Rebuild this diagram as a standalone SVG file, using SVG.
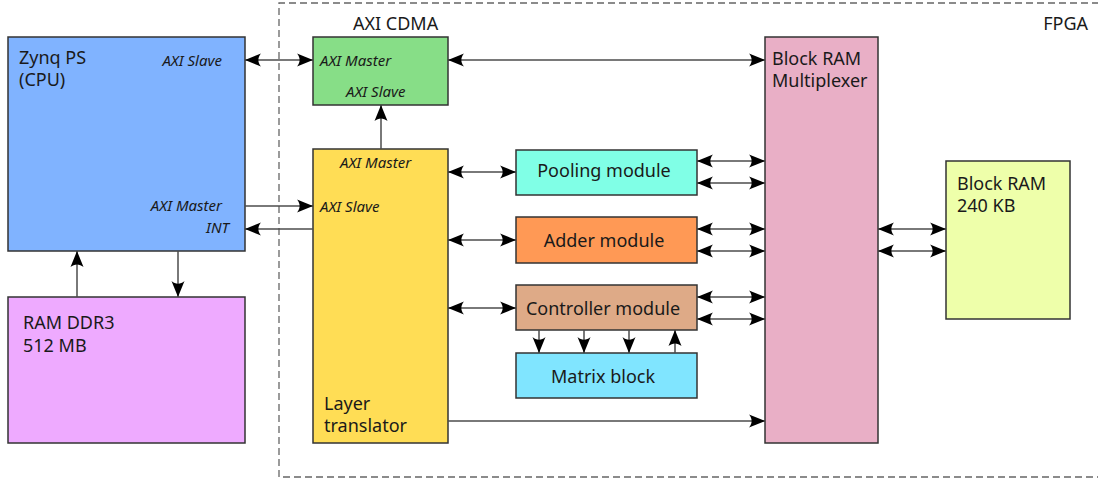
<svg xmlns="http://www.w3.org/2000/svg" width="1098" height="482" viewBox="0 0 1098 482">
<style>
text{font-family:"Noto Sans","Open Sans","DejaVu Sans",sans-serif;fill:#1a1a1a}
.t{font-size:18px}
.i{font-size:15px;font-style:italic}
.box{stroke:#333;stroke-width:1.5}
.c{stroke:#4d4d4d;stroke-width:1.5;fill:none}
.e{marker-end:url(#ah)}
.b{marker-start:url(#ah);marker-end:url(#ah)}
</style>
<defs>
<marker id="ah" markerUnits="userSpaceOnUse" markerWidth="20" markerHeight="16" viewBox="-16 -8 18 16" refX="0" refY="0" orient="auto-start-reverse">
<path d="M0,0 L-16,-6.5 C-12.5,-2.5 -12.5,2.5 -16,6.5 Z" fill="#000"/>
</marker>
</defs>
<rect width="1098" height="482" fill="#fff"/>
<g id="fpga">
<path d="M1110,3 H279 V477 H1110" fill="none" stroke="#666" stroke-width="1.3" stroke-dasharray="7,4"/>
<text class="t" x="1088" y="30" text-anchor="end">FPGA</text>
</g>
<g id="zynq">
<rect class="box" x="8" y="37" width="237" height="214" fill="#80b3ff"/>
<text class="t" x="19" y="64">Zynq PS</text>
<text class="t" x="19" y="86">(CPU)</text>
<text class="i" x="222" y="66" text-anchor="end">AXI Slave</text>
<text class="i" x="222" y="211" text-anchor="end">AXI Master</text>
<text class="i" x="229" y="233" text-anchor="end">INT</text>
</g>
<g id="ramddr3">
<rect class="box" x="8" y="297" width="237" height="146" fill="#eeaaff"/>
<text class="t" x="23" y="329">RAM DDR3</text>
<text class="t" x="23" y="352">512 MB</text>
</g>
<g id="cdma">
<rect class="box" x="313" y="37" width="135" height="68" fill="#87de87"/>
<text class="t" x="353" y="30">AXI CDMA</text>
<text class="i" x="320" y="66">AXI Master</text>
<text class="i" x="346" y="97">AXI Slave</text>
</g>
<g id="layer">
<rect class="box" x="313" y="149" width="135" height="294" fill="#ffdd55"/>
<text class="i" x="340" y="168">AXI Master</text>
<text class="i" x="320" y="212">AXI Slave</text>
<text class="t" x="324" y="410">Layer</text>
<text class="t" x="324" y="432">translator</text>
</g>
<g id="pooling">
<rect class="box" x="516" y="150" width="181" height="45" fill="#80ffe6"/>
<text class="t" x="604" y="177" text-anchor="middle">Pooling module</text>
</g>
<g id="adder">
<rect class="box" x="516" y="217" width="181" height="46" fill="#ff9955"/>
<text class="t" x="604" y="247" text-anchor="middle">Adder module</text>
</g>
<g id="controller">
<rect class="box" x="516" y="285" width="181" height="45" fill="#deaa87"/>
<text class="t" x="603" y="315" text-anchor="middle">Controller module</text>
</g>
<g id="matrix">
<rect class="box" x="516" y="353" width="181" height="45" fill="#80e5ff"/>
<text class="t" x="603" y="383" text-anchor="middle">Matrix block</text>
</g>
<g id="mux">
<rect class="box" x="765" y="37" width="113" height="406" fill="#e9afc6"/>
<text class="t" x="772" y="65">Block RAM</text>
<text class="t" x="772" y="87">Multiplexer</text>
</g>
<g id="bram">
<rect class="box" x="946" y="161" width="124" height="158" fill="#eeffaa"/>
<text class="t" x="957" y="190">Block RAM</text>
<text class="t" x="957" y="212">240 KB</text>
</g>
<g id="connectors">
<line class="c b" x1="245" y1="60" x2="313" y2="60"/>
<line class="c e" x1="245" y1="206" x2="313" y2="206"/>
<line class="c e" x1="313" y1="229" x2="245" y2="229"/>
<line class="c e" x1="77" y1="297" x2="77" y2="251"/>
<line class="c e" x1="178" y1="251" x2="178" y2="297"/>
<line class="c e" x1="381" y1="149" x2="381" y2="105"/>
<line class="c b" x1="448" y1="60" x2="765" y2="60"/>
<line class="c b" x1="448" y1="172" x2="516" y2="172"/>
<line class="c b" x1="448" y1="240" x2="516" y2="240"/>
<line class="c b" x1="448" y1="308" x2="516" y2="308"/>
<line class="c e" x1="448" y1="421" x2="765" y2="421"/>
<line class="c b" x1="697" y1="161" x2="765" y2="161"/>
<line class="c b" x1="697" y1="183" x2="765" y2="183"/>
<line class="c b" x1="697" y1="229" x2="765" y2="229"/>
<line class="c b" x1="697" y1="251" x2="765" y2="251"/>
<line class="c b" x1="697" y1="297" x2="765" y2="297"/>
<line class="c b" x1="697" y1="319" x2="765" y2="319"/>
<line class="c b" x1="878" y1="229" x2="946" y2="229"/>
<line class="c b" x1="878" y1="251" x2="946" y2="251"/>
<line class="c e" x1="539" y1="330" x2="539" y2="353"/>
<line class="c e" x1="584" y1="330" x2="584" y2="353"/>
<line class="c e" x1="629" y1="330" x2="629" y2="353"/>
<line class="c e" x1="675" y1="353" x2="675" y2="330"/>
</g>
</svg>
